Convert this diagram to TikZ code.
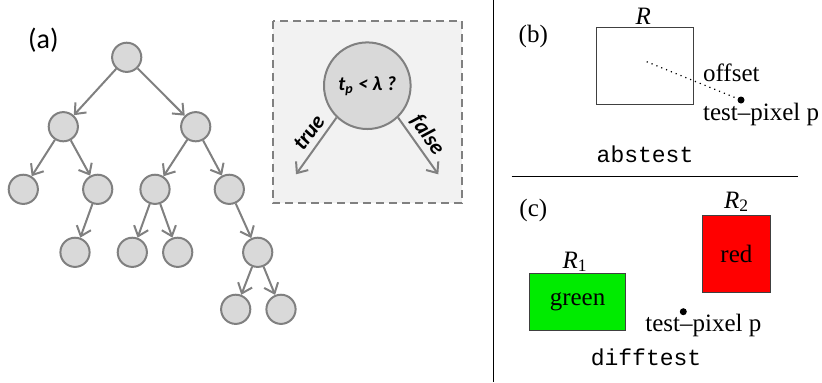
\documentclass[tikz,border=0pt]{standalone}
\usepackage{fontspec}
\setmainfont{Liberation Serif}
\setmonofont{Liberation Mono}
\newfontfamily\calib{Carlito}
\usetikzlibrary{arrows.meta}

\definecolor{boxgreen}{RGB}{0,235,0}
\definecolor{boxred}{RGB}{255,0,0}

\begin{document}
\begin{tikzpicture}[x=0.5pt,y=-0.5pt,
  tnode/.style={circle,draw=gray,fill=gray!30,line width=1pt,minimum size=14.6pt,inner sep=0pt},
  tedge/.style={draw=gray,line width=1pt,-{Straight Barb[length=4.5pt,width=7.5pt]}},
  lbl/.style={inner sep=0pt,font=\fontsize{12.5}{14}\selectfont},
  ttlbl/.style={inner sep=0pt,font=\ttfamily\fontsize{11.5}{14}\selectfont},
  region/.style={draw=black!75,inner sep=0pt,font=\fontsize{12.5}{14}\selectfont},
  pix/.style={circle,fill=black,inner sep=0pt,minimum size=3.5pt}]
  \useasboundingbox (0,0) rectangle (822,382);

  % (a) tree
  \node[font=\calib\fontsize{14}{16}\selectfont] (la) at (43.3,40) {(a)};
  \node[tnode] (root) at (126.7,57.3) {};
  \node[tnode] (n1) at (63.3,126.7) {};
  \node[tnode] (n2) at (195.7,126.7) {};
  \node[tnode] (n11) at (23.3,189.3) {};
  \node[tnode] (n12) at (97.7,189.3) {};
  \node[tnode] (n21) at (155,189.3) {};
  \node[tnode] (n22) at (229.3,189.3) {};
  \node[tnode] (n121) at (75,252.3) {};
  \node[tnode] (n211) at (132.3,252.3) {};
  \node[tnode] (n212) at (177.7,252.3) {};
  \node[tnode] (n221) at (257.7,252.3) {};
  \node[tnode] (n2211) at (235.7,309.3) {};
  \node[tnode] (n2212) at (281,309.3) {};
  \foreach \a/\b in {root/n1,root/n2,n1/n11,n1/n12,n2/n21,n2/n22,n12/n121,
                     n21/n211,n21/n212,n22/n221,n221/n2211,n221/n2212}
    \draw[tedge] (\a) -- (\b);

  % split test
  \draw[gray,line width=1pt,dash pattern=on 4pt off 2.5pt,fill=gray!10] (272.7,20.5) rectangle (461.7,203);
  \node[tnode,minimum size=43.3pt,font=\calib\bfseries\itshape\fontsize{10}{12}\selectfont] (test) at (367.3,85.7)
    {t\textsubscript{p} < λ ?};
  \coordinate (tend) at (296,174.3);
  \coordinate (fend) at (438.3,174.3);
  \draw[tedge] (test.226) -- (tend);
  \draw[tedge] (test.314) -- (fend);
  \node[rotate=54,inner sep=1pt,font=\calib\bfseries\itshape\fontsize{11}{13}\selectfont] (tlab) at (309,132.5) {true};
  \node[rotate=-55,inner sep=1pt,font=\calib\bfseries\itshape\fontsize{11}{13}\selectfont] (flab) at (427.5,134.5) {false};

  \draw[line width=0.5pt] (493,0) -- (493,382);
  \draw[line width=0.5pt] (511.7,176.7) -- (798.3,176.7);

  % (b) abstest
  \node[lbl] (lb) at (533.3,36.7) {(b)};
  \node[region,minimum width=48.3pt,minimum height=38.3pt] (rr) at (645,65.7) {};
  \node[lbl] (rname) at (643.3,16.7) {\textit{R}};
  \coordinate (ctr) at (646.7,61.7);
  \node[pix] (p1) at (741,100) {};
  \draw[dotted,line width=0.6pt] (ctr) -- (p1);
  \node[lbl,anchor=west] (off) at (702.7,73.3) {offset};
  \node[lbl,anchor=west] (tp1) at (702.7,114) {test--pixel p};
  \node[ttlbl] (abs) at (645,154) {abstest};

  % (c) difftest
  \node[lbl] (lc) at (533.3,210) {(c)};
  \node[region,fill=boxgreen,minimum width=48.2pt,minimum height=28.7pt] (r1) at (577.5,302) {green};
  \node[lbl] (r1name) at (575,261.7) {\textit{R}\textsubscript{1}};
  \node[region,fill=boxred,minimum width=33.7pt,minimum height=38.3pt] (r2) at (736.4,254) {red};
  \node[lbl] (r2name) at (736.7,201.7) {\textit{R}\textsubscript{2}};
  \node[pix] (p2) at (683.3,311.7) {};
  \node[lbl,anchor=west] (tp2) at (645,325) {test--pixel p};
  \node[ttlbl] (diff) at (646,357) {difftest};
\end{tikzpicture}
\end{document}
